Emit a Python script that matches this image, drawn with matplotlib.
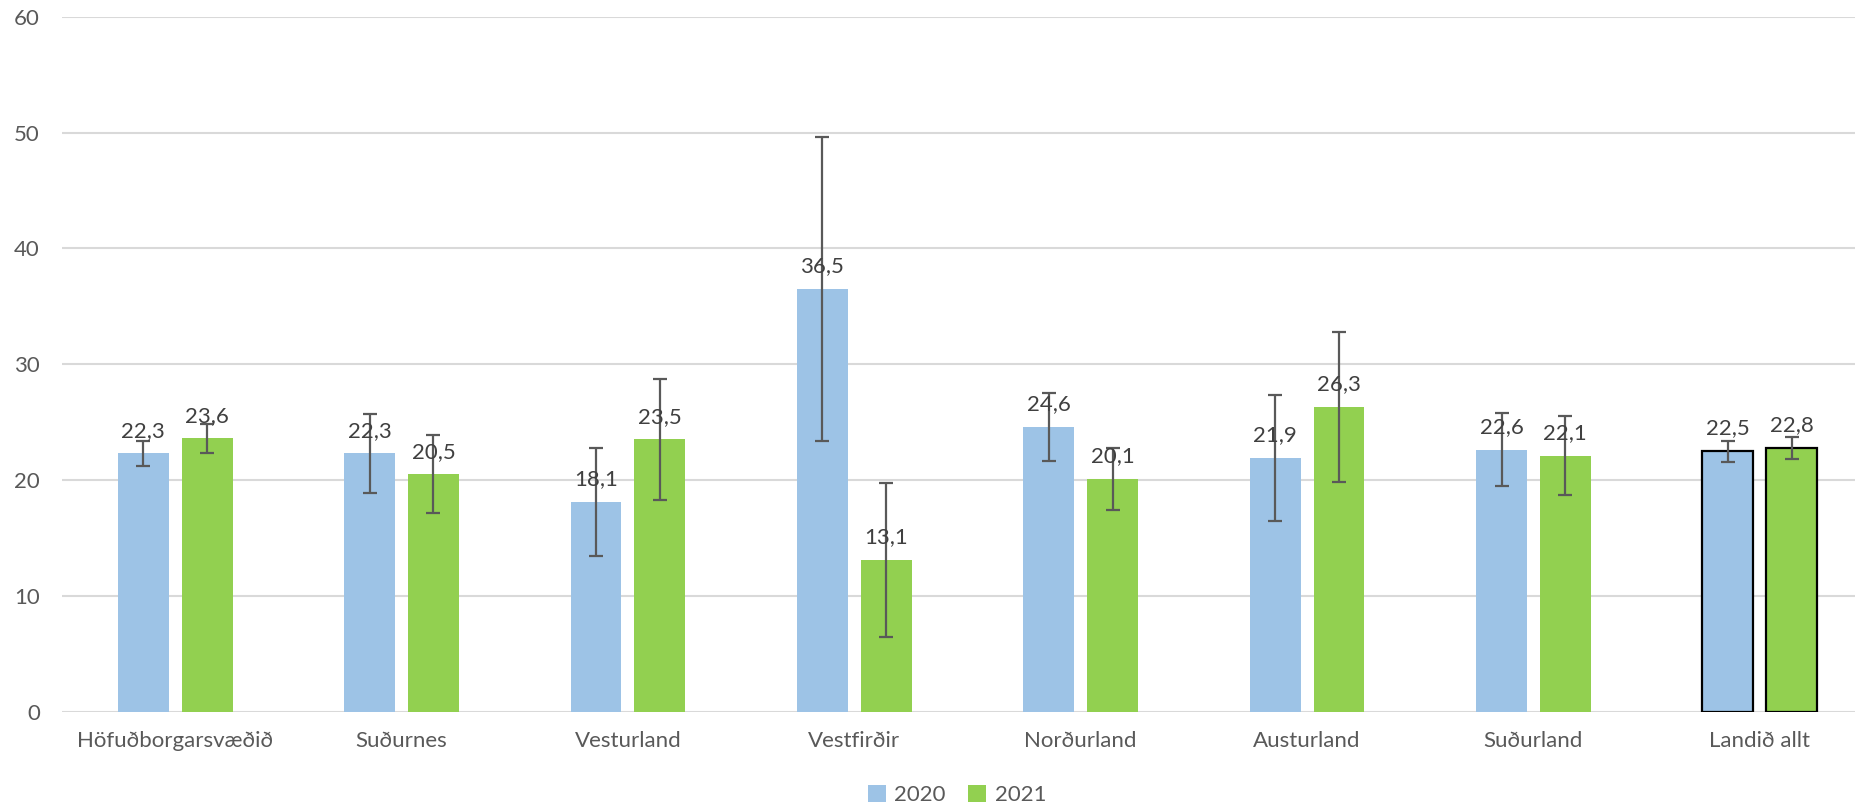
import matplotlib.pyplot as plt
import numpy as np

plt.rcParams['font.family'] = ['Lato', 'DejaVu Sans']

regions = ["Höfuðborgarsvæðið", "Suðurnes", "Vesturland", "Vestfirðir",
           "Norðurland", "Austurland", "Suðurland", "Landið allt"]
vals_2020 = [22.3, 22.3, 18.1, 36.5, 24.6, 21.9, 22.6, 22.5]
vals_2021 = [23.6, 20.5, 23.5, 13.1, 20.1, 26.3, 22.1, 22.8]
err_2020 = [1.1, 3.4, 4.65, 13.1, 2.95, 5.4, 3.15, 0.9]
err_2021 = [1.25, 3.35, 5.2, 6.65, 2.7, 6.45, 3.4, 0.95]

blue = '#9dc3e6'
green = '#92d050'
err_col = '#595959'

fig = plt.figure(figsize=(18.55, 8.08), dpi=100)
# the plot area runs a little past the right edge of the figure
ax = fig.add_axes([62 / 1855, 1 - 711.7 / 808, 1811 / 1855, 695 / 808])

x = np.arange(len(regions))
w = 0.225
off = 0.141

edges = ['none'] * (len(regions) - 1) + ['black']
lws = [0] * (len(regions) - 1) + [1.6]

ekw = dict(ecolor=err_col, elinewidth=1.6, capsize=5, capthick=1.6)
b1 = ax.bar(x - off, vals_2020, w, color=blue, edgecolor=edges, linewidth=lws,
            yerr=err_2020, error_kw=ekw, label='2020', zorder=2)
b2 = ax.bar(x + off, vals_2021, w, color=green, edgecolor=edges, linewidth=lws,
            yerr=err_2021, error_kw=ekw, label='2021', zorder=2)

for bars, vals in [(b1, vals_2020), (b2, vals_2021)]:
    for rect, v in zip(bars, vals):
        ax.annotate(f"{v:.1f}".replace('.', ','),
                    (rect.get_x() + rect.get_width() / 2, v),
                    xytext=(0, 9), textcoords='offset points',
                    ha='center', va='bottom', fontsize=16, color='#404040',
                    zorder=4)

ax.set_ylim(0, 60)
ax.set_xlim(-0.5, len(regions) - 0.5)
ax.set_yticks(range(0, 61, 10))
ax.set_xticks(x)
ax.set_xticklabels(regions)
ax.tick_params(axis='both', length=0, labelsize=16, labelcolor='#595959')
ax.tick_params(axis='x', pad=14)
ax.tick_params(axis='y', pad=16)
ax.grid(axis='y', color='#d9d9d9', linewidth=1.5, zorder=0)
ax.set_axisbelow(True)
for s in ax.spines.values():
    s.set_visible(False)

leg = fig.legend(handles=[b1.patches[0], b2.patches[0]], labels=['2020', '2021'],
                 loc='center', bbox_to_anchor=(957 / 1855, 1 - 795 / 808),
                 ncol=2, frameon=False, fontsize=16, handlelength=0.8,
                 handleheight=0.8, handletextpad=0.4, columnspacing=1.0)
for h in leg.legend_handles:
    h.set_edgecolor('none')
    h.set_linewidth(0)
for t in leg.get_texts():
    t.set_color('#595959')

fig.savefig('out.png', dpi=100)
